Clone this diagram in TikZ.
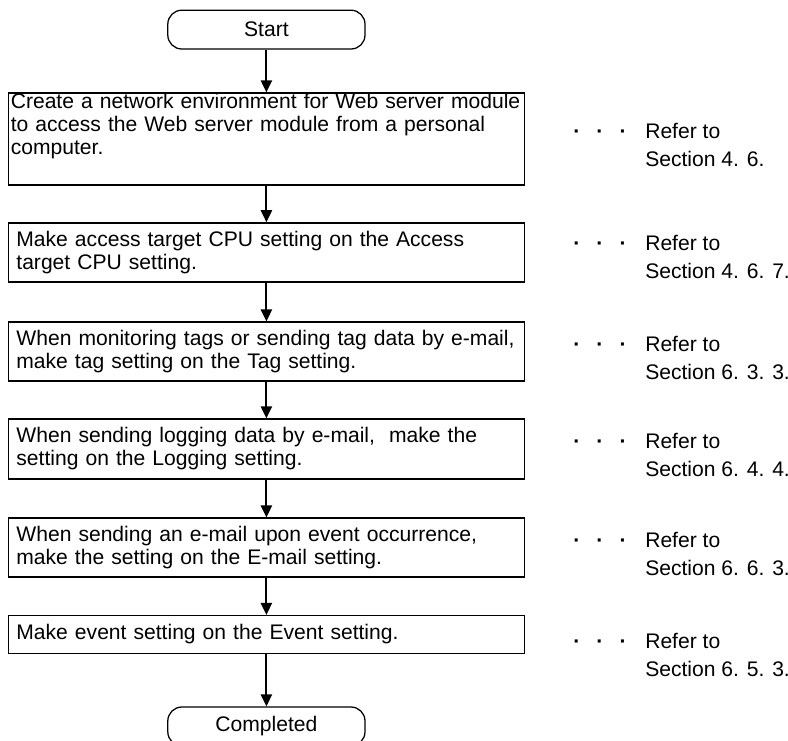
\documentclass[tikz,border=0pt]{standalone}
\usepackage{fontspec}
\setmainfont{Liberation Sans}
\usetikzlibrary{
  arrows.meta,
  positioning,
}

\begin{document}
\begin{tikzpicture}[
  font=\fontsize{15}{16.4}\selectfont,
  terminal/.style={draw=black, line width=0.9pt, rounded corners=0.35cm,
                   minimum width=4.93cm, minimum height=0.97cm},
  block/.style={draw=black, line width=1pt, align=left,
                inner xsep=0.2cm, inner ysep=0pt, text width=12.5cm},
  arrow/.style={-{Triangle[length=0.3cm, width=0.28cm]}, line width=1.3pt},
  dots/.style={inner sep=0pt, anchor=base, font=\fontsize{15}{16}\selectfont\bfseries},
  refer/.style={inner sep=0pt, anchor=north west, align=left,
                font=\fontsize{15}{20}\selectfont},
]
\useasboundingbox (0,0) rectangle (19.7,-18.5);

\node[terminal] (start) at (6.66,-0.74) {Start};

\node[block, inner xsep=0.06cm, text width=12.78cm, minimum height=2.3cm]
  (net) at (6.66,-3.475)
  {Create a network environment for Web server module\\
   to access the Web server module from a personal\\
   computer.\\ \strut};
\node[block, minimum height=1.475cm] (cpu) at (6.66,-6.31)
  {Make access target CPU setting on the Access\\ target CPU setting.};
\node[block, minimum height=1.475cm] (tag) at (6.66,-8.79)
  {When monitoring tags or sending tag data by e-mail,\\
   make tag setting on the Tag setting.};
\node[block, minimum height=1.5cm] (log) at (6.66,-11.225)
  {When sending logging data by e-mail,\ \ make the\\
   setting on the Logging setting.};
\node[block, minimum height=1.475cm] (mail) at (6.66,-13.69)
  {When sending an e-mail upon event occurrence,\\
   make the setting on the E-mail setting.};
\node[block, minimum height=0.94cm] (event) at (6.66,-15.86)
  {Make event setting on the Event setting.};

\node[terminal] (done) at (6.66,-18.16) {Completed};

\foreach \a/\b in {start/net,net/cpu,cpu/tag,tag/log,log/mail,mail/event,event/done}{
  \draw[arrow] (\a) -- (\b);
}

% references on the right
\foreach \n/\y/\s in {1/-3.075/4. 6.,2/-5.875/4. 6. 7.,3/-8.4/6. 3. 3.,
                      4/-10.825/6. 4. 4.,5/-13.3/6. 6. 3.,6/-15.825/6. 5. 3.}{
  \node[dots] (d\n) at (15.0,\y-0.375) {·\hspace{0.4cm}·\hspace{0.4cm}·};
  \node[refer] (r\n) at (16.125,\y) {Refer to\\Section \s};
}

\end{tikzpicture}
\end{document}
